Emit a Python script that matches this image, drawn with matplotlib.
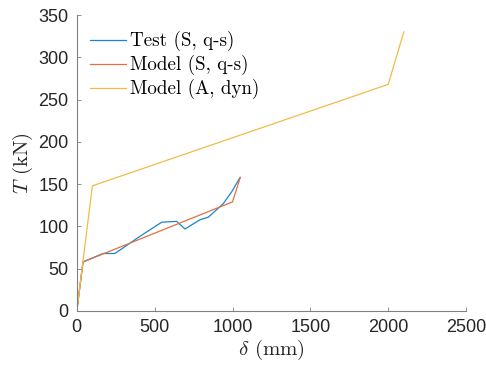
import matplotlib as mpl
import matplotlib.pyplot as plt

# test data, static quasi-static
test_d = [0, 40, 169, 245, 395, 545, 641, 695, 792, 845, 941, 995, 1049]
test_T = [0, 58, 68, 68, 87, 105, 106, 97, 108, 111, 127, 141, 158]

# model, static quasi-static
model_s_d = [0, 40, 1000, 1050]
model_s_T = [0, 58, 129, 158]

# model, dynamic
model_a_d = [0, 100, 2000, 2100]
model_a_T = [0, 148, 268, 330]

xticks = [0, 500, 1000, 1500, 2000, 2500]
yticks = [0, 50, 100, 150, 200, 250, 300, 350]

mpl.rcParams['mathtext.fontset'] = 'cm'
mpl.rcParams['font.family'] = ['Liberation Sans', 'DejaVu Sans']

fig = plt.figure(figsize=(4.86, 3.67), dpi=100)
ax = fig.add_axes([0.158, 0.1526, 0.801, 0.8064])

ax.plot(test_d, test_T, c='#1a84d0', lw=0.9, label='Test (S, q-s)')
ax.plot(model_s_d, model_s_T, c='#e2703f', lw=0.9, label='Model (S, q-s)')
ax.plot(model_a_d, model_a_T, c='#f2bb45', lw=0.9, label='Model (A, dyn)')

ax.set_xlim(0, 2500)
ax.set_ylim(0, 350)
ax.set_xticks(xticks)
ax.set_yticks(yticks)
ax.spines['top'].set_visible(False)
ax.spines['right'].set_visible(False)
for s in ['left', 'bottom']:
    ax.spines[s].set_color('#808080')
    ax.spines[s].set_linewidth(0.8)
ax.tick_params(direction='in', length=3, width=0.6, color='#808080',
               labelsize=13, labelcolor='#262626', pad=6)

ax.set_xlabel(r'$\delta$ (mm)', family='cmr10', fontsize=15, color='#262626', labelpad=1)
ax.set_ylabel(r'$T$ (kN)', family='cmr10', fontsize=15, color='#262626', labelpad=2)

leg = ax.legend(loc='upper left', frameon=False, prop={'family': 'cmr10', 'size': 13.7},
                handlelength=1.9, handletextpad=0.2, labelspacing=0.2,
                borderaxespad=0.3, bbox_to_anchor=(0.0, 0.99))

plt.savefig('out.png', dpi=100)
